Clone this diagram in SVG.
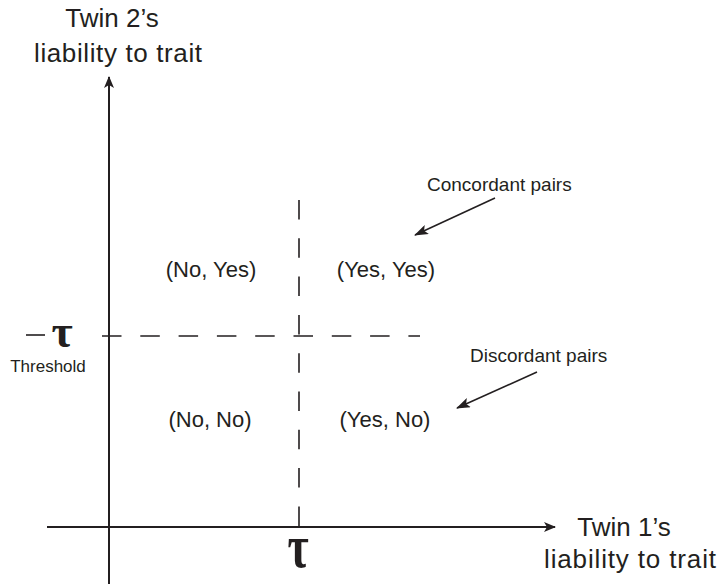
<svg xmlns="http://www.w3.org/2000/svg" width="720" height="584" viewBox="0 0 720 584">
<style>
.lbl{font-family:"Liberation Sans",Arial,sans-serif;fill:#231f20}
.ax{font-size:26px}
.q{font-size:22px}
.sm{font-size:19px}
.tau{font-family:"Liberation Serif","Times New Roman",serif;fill:#231f20;font-weight:bold}
.axis{stroke:#231f20;stroke-width:2;fill:none}
.dash{stroke:#231f20;stroke-width:1.6;fill:none;stroke-dasharray:19.5 18.8}
.ptr{stroke:#231f20;stroke-width:1.6;fill:none}
</style>
<defs>
<marker id="ah" viewBox="0 0 12 10" refX="11" refY="5" markerWidth="12" markerHeight="10" markerUnits="userSpaceOnUse" orient="auto">
<path d="M0,0 L12,5 L0,10 L3,5 Z" fill="#231f20"/>
</marker>
<marker id="ah2" viewBox="0 0 14 10" refX="13" refY="5" markerWidth="14" markerHeight="10" markerUnits="userSpaceOnUse" orient="auto">
<path d="M0,0 L14,5 L0,10 L3,5 Z" fill="#231f20"/>
</marker>
</defs>
<g id="connectors">
<line id="y-axis" class="axis" x1="109" y1="584" x2="109" y2="77" marker-end="url(#ah)"/>
<line id="x-axis" class="axis" x1="47" y1="527" x2="555" y2="527" marker-end="url(#ah)"/>
<line id="h-threshold" class="dash" x1="102" y1="336" x2="420" y2="336"/>
<line id="h-tick" class="axis" x1="26" y1="335" x2="45" y2="335" style="stroke-width:1.6"/>
<line id="v-threshold" class="dash" x1="299" y1="200" x2="299" y2="527"/>
<line id="arrow-concordant" class="ptr" x1="495" y1="198" x2="415" y2="235" marker-end="url(#ah2)"/>
<line id="arrow-discordant" class="ptr" x1="537" y1="372" x2="457" y2="408" marker-end="url(#ah2)"/>
</g>
<g id="y-label">
<text class="lbl ax" x="112" y="27" text-anchor="middle">Twin 2’s</text>
<text class="lbl ax" x="118" y="62" text-anchor="middle" textLength="168">liability to trait</text>
</g>
<g id="x-label">
<text class="lbl ax" x="624" y="536" text-anchor="middle">Twin 1’s</text>
<text class="lbl ax" x="630" y="568" text-anchor="middle" textLength="172">liability to trait</text>
</g>
<g id="threshold-y">
<text class="tau" x="62" y="347" text-anchor="middle" font-size="46">τ</text>
<text class="lbl" x="48" y="372" text-anchor="middle" font-size="17">Threshold</text>
</g>
<g id="threshold-x">
<text class="tau" x="298" y="0" text-anchor="middle" font-size="46" transform="translate(0,567) scale(1,1.35)">τ</text>
</g>
<g id="q-no-yes"><text class="lbl q" x="211" y="277" text-anchor="middle">(No, Yes)</text></g>
<g id="q-yes-yes"><text class="lbl q" x="386" y="277" text-anchor="middle">(Yes, Yes)</text></g>
<g id="q-no-no"><text class="lbl q" x="210" y="427" text-anchor="middle">(No, No)</text></g>
<g id="q-yes-no"><text class="lbl q" x="385" y="427" text-anchor="middle">(Yes, No)</text></g>
<g id="concordant"><text class="lbl sm" x="427" y="191">Concordant pairs</text></g>
<g id="discordant"><text class="lbl sm" x="470" y="362">Discordant pairs</text></g>
</svg>
